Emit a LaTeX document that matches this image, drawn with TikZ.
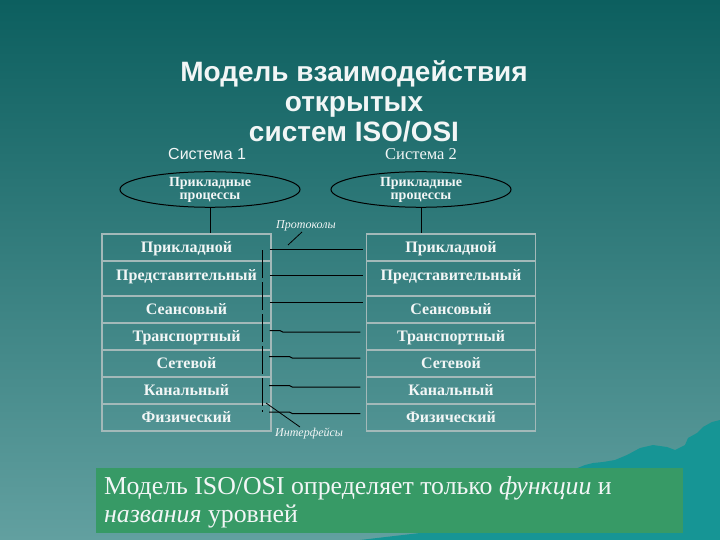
\documentclass[tikz,border=0pt]{standalone}
\usepackage{fontspec}
\setmainfont{Liberation Serif}
\newfontfamily\arialf{Liberation Sans}
\usetikzlibrary{shapes.geometric}
\definecolor{bgtop}{HTML}{0C5F5F}
\definecolor{bgbot}{HTML}{62A0A0}
\definecolor{mount}{HTML}{169595}
\definecolor{boxgreen}{HTML}{379A66}
\definecolor{gridgray}{HTML}{A3B9B9}
\definecolor{txtwhite}{HTML}{F2F6F6}
\begin{document}
\begin{tikzpicture}[x=1pt,y=-1pt,
  txt/.style={text=txtwhite, inner sep=0pt},
  titletxt/.style={txt, anchor=base, font=\arialf\bfseries\fontsize{28}{30}\selectfont},
  cellbox/.style={draw=gridgray, line width=1.4pt, minimum width=169pt, inner sep=0pt,
     text=txtwhite, font=\fontsize{16}{18}\selectfont\bfseries, minimum height=27pt,
     text height=12pt, text depth=2pt},
  proc/.style={ellipse, draw=black, line width=1pt, minimum width=180pt, minimum height=35pt,
     inner sep=0pt, align=center, text=txtwhite, font=\fontsize{14}{13}\selectfont\bfseries},
  link/.style={draw=black, line width=1pt},
  pointer/.style={draw=black, line width=0.8pt},
  smalllbl/.style={txt, anchor=base west, font=\itshape\fontsize{12}{12}\selectfont},
  notetxt/.style={txt, anchor=base west, font=\fontsize{25.8}{28}\selectfont}]

\useasboundingbox (0,0) rectangle (720,540);
\shade[top color=bgtop, bottom color=bgbot] (0,0) rectangle (720,540);

% mountain
\fill[mount] (360,540) -- (420,533) -- (560,475) -- (585,465) -- (593,463) -- (603,462)
  -- (615,460) -- (627,455) -- (640,448) -- (653,445) -- (667,447) -- (675,450)
  -- (685,445) -- (688,438) -- (697,433) -- (703,427) -- (712,422) -- (720,420)
  -- (720,540) -- cycle;

% title
\node[titletxt] (t1) at (354,82) {Модель взаимодействия};
\node[titletxt] (t2) at (354,112) {открытых};
\node[titletxt] (t3) at (354,142) {систем ISO/OSI};

\node[txt, anchor=base west, font=\arialf\fontsize{16}{18}\selectfont] (s1) at (168,160) {Система 1};
\node[txt, anchor=base west, font=\fontsize{16.5}{18}\selectfont] (s2) at (385,160) {Система 2};

% application processes
\node[proc] (pL) at (210,189.5) {Прикладные\\процессы};
\node[proc] (pR) at (421,189.5) {Прикладные\\процессы};

% left stack
\node[cellbox] (L1) at (186.5,247.5) {Прикладной};
\node[cellbox, minimum height=35pt, text depth=9pt] (L2) at (186.5,278.5) {Представительный};
\node[cellbox] (L3) at (186.5,309.5) {Сеансовый};
\node[cellbox] (L4) at (186.5,336.5) {Транспортный};
\node[cellbox] (L5) at (186.5,363.5) {Сетевой};
\node[cellbox] (L6) at (186.5,390.5) {Канальный};
\node[cellbox] (L7) at (186.5,417.5) {Физический};
% right stack
\node[cellbox] (R1) at (451,247.5) {Прикладной};
\node[cellbox, minimum height=35pt, text depth=9pt] (R2) at (451,278.5) {Представительный};
\node[cellbox] (R3) at (451,309.5) {Сеансовый};
\node[cellbox] (R4) at (451,336.5) {Транспортный};
\node[cellbox] (R5) at (451,363.5) {Сетевой};
\node[cellbox] (R6) at (451,390.5) {Канальный};
\node[cellbox] (R7) at (451,417.5) {Физический};

% process to stack
\draw[link] (pL.south) -- (pL.south |- L1.north);
\draw[link] (pR.south) -- (pR.south |- R1.north);

% protocols
\draw[link] ([xshift=-2pt,yshift=-1.5pt]L1.east) -- ([xshift=-2.5pt,yshift=-1.5pt]R1.west);
\draw[link] ([xshift=-2pt,yshift=3pt]L2.east) -- ([xshift=-2.5pt,yshift=3pt]R2.west);
\draw[link] ([xshift=-2pt,yshift=7.5pt]L3.east) -- ([xshift=-2.5pt,yshift=7.5pt]R3.west);
\draw[link] ([xshift=-2pt,yshift=6pt]L4.east) -- ++(10,0) -- ++(3,1.5) -- ([xshift=-5.5pt,yshift=4.5pt]R4.west);
\draw[link] ([xshift=-2.5pt,yshift=7pt]L5.east) -- ++(20,0) -- ++(3,1.5) -- ([xshift=-5.5pt,yshift=5.5pt]R5.west);
\draw[link] ([xshift=-2.5pt,yshift=5pt]L6.east) -- ++(20,0) -- ++(3,1.5) -- ([xshift=-5.5pt,yshift=3.5pt]R6.west);
\draw[link] ([xshift=-2.5pt,yshift=5.5pt]L7.east) -- ++(20,0) -- ++(3,1.5) -- ([xshift=-5.5pt,yshift=4pt]R7.west);

% interfaces line
\coordinate (ifT) at (262,250);
\coordinate (ifB) at (262,412);
\draw[link, dash pattern=on 28pt off 4pt] (ifT) -- (ifB);

% labels
\node[smalllbl] (proto) at (276,229) {Протоколы};
\node[smalllbl] (intf) at (275,436) {Интерфейсы};
\coordinate (pA) at (302,232);
\coordinate (pB) at (288,245);
\draw[pointer] (pA) -- (pB);
\coordinate (iA) at (266,403);
\coordinate (iB) at (300,427);
\draw[pointer] (iA) -- (iB);

% note box
\node[fill=boxgreen, minimum width=587.5pt, minimum height=64.5pt, anchor=north west, inner sep=0pt] (note) at (95.5,468) {};
\node[notetxt] (n1) at (104,494) {Модель ISO/OSI определяет только \textit{функции} и};
\node[notetxt] (n2) at (104,522) {\textit{названия} уровней};
\end{tikzpicture}
\end{document}
